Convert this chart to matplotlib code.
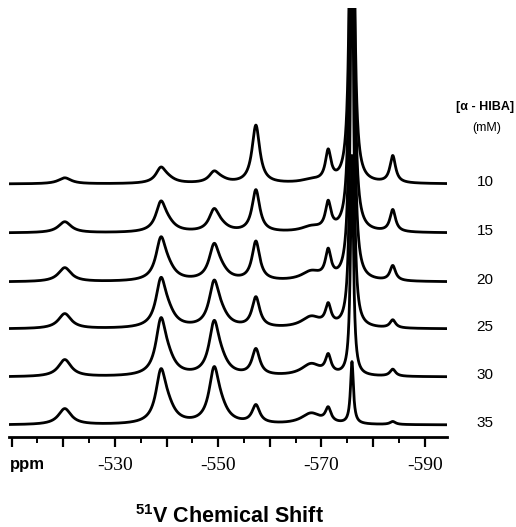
import matplotlib
matplotlib.use("Agg")
import matplotlib.pyplot as plt
import matplotlib.transforms as mtransforms
from matplotlib import font_manager
import numpy as np

# concentration labels, top trace first
conc = ["10", "15", "20", "25", "30", "35"]
offsets = [253, 204, 155, 108, 60, 12]

# peak centres (ppm) and half widths (ppm)
centers = [-520.3, -538.9, -540.2, -549.2, -550.5, -557.3, -568.0, -571.3, -575.9, -583.8]
hwhm = [1.5, 1.15, 1.7, 1.15, 1.7, 0.9, 2.3, 0.65, 0.34, 0.65]

# peak amplitudes per trace (same order as conc)
heights = [
    [6, 14, 4, 10, 3, 58, 3, 30, 700, 27],
    [11, 27, 7, 20, 5, 42, 5, 27, 700, 22],
    [14, 38, 10, 32, 8, 39, 9, 27, 650, 15],
    [15, 43, 12, 41, 10, 30, 11, 20, 450, 8],
    [17, 50, 13, 48, 11, 26, 12, 18, 220, 7],
    [16, 47, 13, 50, 11, 18, 11, 14, 62, 3],
]

tick_values = [-510, -520, -530, -540, -550, -560, -570, -580, -590]
tick_labels = ["", "", "-530", "", "-550", "", "-570", "", "-590"]
minor_values = [-515, -525, -535, -545, -555, -565, -575, -585]

names = {f.name for f in font_manager.fontManager.ttflist}
narrow = "Liberation Sans Narrow" if "Liberation Sans Narrow" in names else "Liberation Sans"

plt.rcParams["mathtext.fontset"] = "custom"
plt.rcParams["mathtext.rm"] = "Liberation Sans:bold"
plt.rcParams["mathtext.default"] = "rm"

W, H = 516, 527
fig = plt.figure(figsize=(W / 100, H / 100), dpi=100)
ax = fig.add_axes([9 / W, 90 / H, 438 / W, 429 / H])

x = np.linspace(-509.5, -594.3, 4000)
for off, amps in zip(offsets, heights):
    y = np.zeros_like(x)
    for c, w, a in zip(centers, hwhm, amps):
        y += a / (1 + ((x - c) / w) ** 2)
    ax.plot(x, y + off, color="black", lw=2.0, solid_joinstyle="round")

ax.set_xlim(-509.5, -594.3)
ax.set_ylim(0, 429)
for s in ["left", "right", "top"]:
    ax.spines[s].set_visible(False)
ax.spines["bottom"].set_linewidth(2)
ax.set_yticks([])
ax.set_xticks(tick_values)
ax.set_xticklabels(tick_labels, fontfamily="Liberation Serif", fontsize=14)
ax.set_xticks(minor_values, minor=True)
ax.tick_params(axis="x", which="major", length=7.5, width=1.6, pad=7, direction="out")
ax.tick_params(axis="x", which="minor", length=4.5, width=1.4, direction="out")

trans = mtransforms.blended_transform_factory(ax.transAxes, ax.transData)
for off, lab in zip(offsets, conc):
    ax.text(1.087, off + 2, lab, transform=trans, ha="center", va="center",
            fontsize=11, fontfamily=narrow, clip_on=False)

fig.text(485 / W, 1 - 107 / H, "[\u03b1 - HIBA]", ha="center", va="center",
         fontsize=9, fontweight="bold", fontfamily="Liberation Sans")
fig.text(487 / W, 1 - 128 / H, "(mM)", ha="center", va="center",
         fontsize=9, fontfamily=narrow)
fig.text(10 / W, 1 - 465 / H, "ppm", ha="left", va="center",
         fontsize=12, fontweight="bold", fontfamily="Liberation Sans")
fig.text(229 / W, 1 - 523 / H, r"$^{51}$V Chemical Shift", ha="center", va="baseline",
         fontsize=15.5, fontweight="bold", fontfamily="Liberation Sans")

fig.savefig("out.png", dpi=100)
